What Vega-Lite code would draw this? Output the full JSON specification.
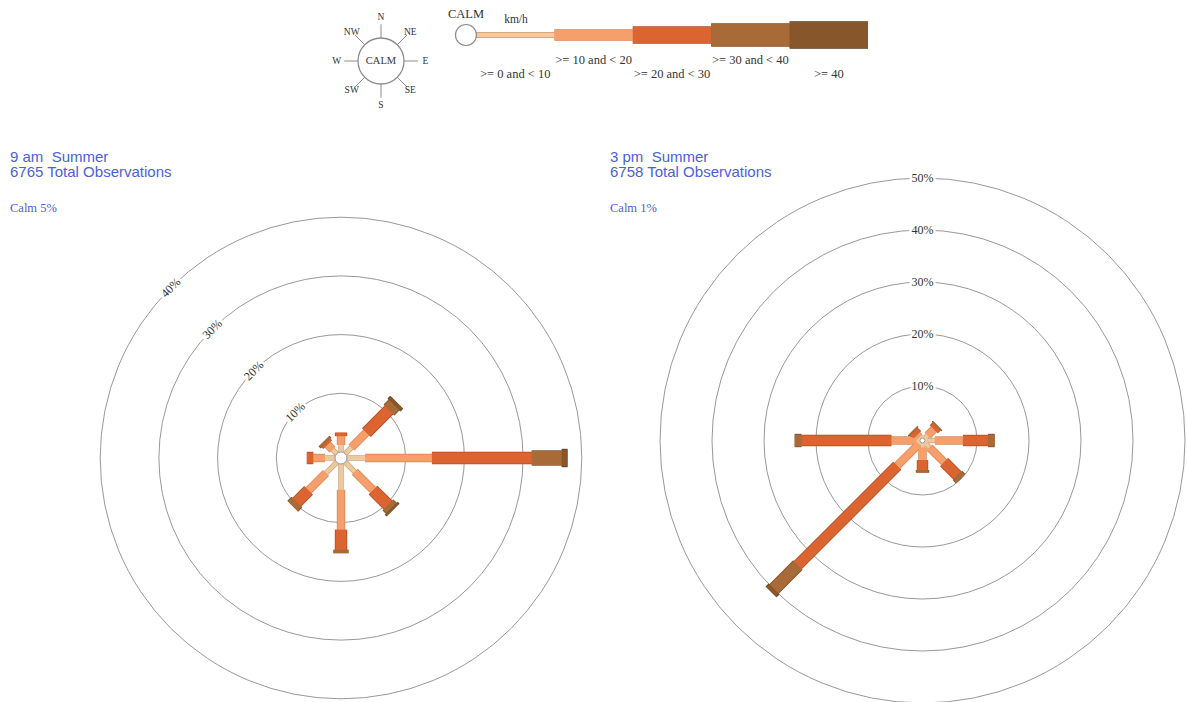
{
  "$schema": "https://vega.github.io/schema/vega-lite/v6.json",
  "width": 1187,
  "height": 702,
  "padding": 0,
  "autosize": {"type": "none"},
  "background": "white",
  "config": {"view": {"stroke": null}},
  "datasets": {
    "am": [
      {"dir": "N", "speed": "0-10", "pct": 1.2}, {"dir": "N", "speed": "10-20", "pct": 1.5}, {"dir": "N", "speed": "20-30", "pct": 0.6},
      {"dir": "NE", "speed": "0-10", "pct": 1.5}, {"dir": "NE", "speed": "10-20", "pct": 3.6}, {"dir": "NE", "speed": "20-30", "pct": 5.45}, {"dir": "NE", "speed": "30-40", "pct": 1.2}, {"dir": "NE", "speed": "40+", "pct": 0.65},
      {"dir": "E", "speed": "0-10", "pct": 3.07}, {"dir": "E", "speed": "10-20", "pct": 11.4}, {"dir": "E", "speed": "20-30", "pct": 17.0}, {"dir": "E", "speed": "30-40", "pct": 5.1}, {"dir": "E", "speed": "40+", "pct": 1.0},
      {"dir": "SE", "speed": "0-10", "pct": 2.3}, {"dir": "SE", "speed": "10-20", "pct": 4.4}, {"dir": "SE", "speed": "20-30", "pct": 3.6}, {"dir": "SE", "speed": "30-40", "pct": 0.8}, {"dir": "SE", "speed": "40+", "pct": 0.4},
      {"dir": "S", "speed": "0-10", "pct": 4.4}, {"dir": "S", "speed": "10-20", "pct": 6.8}, {"dir": "S", "speed": "20-30", "pct": 3.4}, {"dir": "S", "speed": "30-40", "pct": 0.6},
      {"dir": "SW", "speed": "0-10", "pct": 2.6}, {"dir": "SW", "speed": "10-20", "pct": 4.2}, {"dir": "SW", "speed": "20-30", "pct": 2.8}, {"dir": "SW", "speed": "30-40", "pct": 1.0},
      {"dir": "W", "speed": "0-10", "pct": 1.7}, {"dir": "W", "speed": "10-20", "pct": 2.0}, {"dir": "W", "speed": "20-30", "pct": 1.1},
      {"dir": "NW", "speed": "0-10", "pct": 1.0}, {"dir": "NW", "speed": "10-20", "pct": 1.2}, {"dir": "NW", "speed": "20-30", "pct": 0.4}, {"dir": "NW", "speed": "30-40", "pct": 0.45}
    ],
    "pm": [
      {"dir": "N", "speed": "0-10", "pct": 0.5},
      {"dir": "NE", "speed": "0-10", "pct": 0.9}, {"dir": "NE", "speed": "10-20", "pct": 1.7}, {"dir": "NE", "speed": "20-30", "pct": 0.7}, {"dir": "NE", "speed": "30-40", "pct": 0.3},
      {"dir": "E", "speed": "0-10", "pct": 1.9}, {"dir": "E", "speed": "10-20", "pct": 5.4}, {"dir": "E", "speed": "20-30", "pct": 4.8}, {"dir": "E", "speed": "30-40", "pct": 1.3},
      {"dir": "SE", "speed": "0-10", "pct": 1.4}, {"dir": "SE", "speed": "10-20", "pct": 4.0}, {"dir": "SE", "speed": "20-30", "pct": 3.6}, {"dir": "SE", "speed": "30-40", "pct": 0.9},
      {"dir": "S", "speed": "0-10", "pct": 0.9}, {"dir": "S", "speed": "10-20", "pct": 2.4}, {"dir": "S", "speed": "20-30", "pct": 1.9}, {"dir": "S", "speed": "30-40", "pct": 0.5},
      {"dir": "SW", "speed": "0-10", "pct": 0.5}, {"dir": "SW", "speed": "10-20", "pct": 5.9}, {"dir": "SW", "speed": "20-30", "pct": 27.0}, {"dir": "SW", "speed": "30-40", "pct": 6.5}, {"dir": "SW", "speed": "40+", "pct": 0.8},
      {"dir": "W", "speed": "0-10", "pct": 0.7}, {"dir": "W", "speed": "10-20", "pct": 4.8}, {"dir": "W", "speed": "20-30", "pct": 17.3}, {"dir": "W", "speed": "30-40", "pct": 1.3},
      {"dir": "NW", "speed": "0-10", "pct": 0.4}, {"dir": "NW", "speed": "10-20", "pct": 0.6}, {"dir": "NW", "speed": "20-30", "pct": 0.9}, {"dir": "NW", "speed": "30-40", "pct": 0.3}
    ],
    "amRings": [{"ring": 0}, {"ring": 10}, {"ring": 20}, {"ring": 30}, {"ring": 40}],
    "pmRings": [{"ring": 0}, {"ring": 10}, {"ring": 20}, {"ring": 30}, {"ring": 40}, {"ring": 50}],
    "dirs": [{"dir": "N"}, {"dir": "NE"}, {"dir": "E"}, {"dir": "SE"}, {"dir": "S"}, {"dir": "SW"}, {"dir": "W"}, {"dir": "NW"}],
    "key": [
      {"speed": "0-10", "label": ">= 0 and < 10"},
      {"speed": "10-20", "label": ">= 10 and < 20"},
      {"speed": "20-30", "label": ">= 20 and < 30"},
      {"speed": "30-40", "label": ">= 30 and < 40"},
      {"speed": "40+", "label": ">= 40"}
    ],
    "notes": [
      {"panel": "9 am", "kind": "title", "text": "9 am\u00a0 Summer\n6765 Total Observations"},
      {"panel": "9 am", "kind": "calm", "text": "Calm 5%"},
      {"panel": "3 pm", "kind": "title", "text": "3 pm\u00a0 Summer\n6758 Total Observations"},
      {"panel": "3 pm", "kind": "calm", "text": "Calm 1%"}
    ]
  },
  "layer": [
    {
      "layer": [
        {
          "data": {"name": "amRings"},
          "transform": [{"filter": "datum.ring > 0"}, {"calculate": "datum.ring + 1.022", "as": "u"}],
          "mark": {"type": "point", "shape": "circle", "filled": false, "stroke": "#8c8c8c", "strokeWidth": 0.9, "opacity": 1},
          "encoding": {
            "x": {"datum": 0, "type": "quantitative", "scale": {"type": "linear", "domain": [-58.092, 144.123], "nice": false, "zero": false}, "axis": null},
            "y": {"datum": 0, "type": "quantitative", "scale": {"type": "linear", "domain": [-41.567, 78.024], "nice": false, "zero": false}, "axis": null},
            "size": {"field": "u", "type": "quantitative", "scale": {"type": "pow", "exponent": 2, "domain": [0, 50], "range": [0, 344569], "zero": true, "nice": false}, "legend": null}
          }
        },
        {
          "data": {"name": "amRings"},
          "transform": [
            {"filter": "datum.ring > 0"},
            {"calculate": "datum.ring + 1.022", "as": "u"},
            {"calculate": "-0.7071 * datum.u", "as": "lx"},
            {"calculate": "0.7071 * datum.u", "as": "ly"},
            {"calculate": "datum.ring + '%'", "as": "label"}
          ],
          "encoding": {
            "x": {"field": "lx", "type": "quantitative", "scale": {"type": "linear", "domain": [-58.092, 144.123], "nice": false, "zero": false}, "axis": null},
            "y": {"field": "ly", "type": "quantitative", "scale": {"type": "linear", "domain": [-41.567, 78.024], "nice": false, "zero": false}, "axis": null},
            "text": {"field": "label"}
          },
          "layer": [
            {"mark": {"type": "text", "font": "Liberation Serif", "fontSize": 12, "angle": -45, "align": "center", "baseline": "middle", "fill": "white", "stroke": "white", "strokeWidth": 5}},
            {"mark": {"type": "text", "font": "Liberation Serif", "fontSize": 12, "angle": -45, "align": "center", "baseline": "middle", "fill": "#333333"}}
          ]
        },
        {
          "data": {"name": "am"},
          "transform": [
            {"calculate": "indexof(['0-10','10-20','20-30','30-40','40+'], datum.speed)", "as": "ci"},
            {"calculate": "indexof(['N','NE','E','SE','S','SW','W','NW'], datum.dir) * PI / 4", "as": "ang"},
            {"window": [{"op": "sum", "field": "pct", "as": "cum"}], "groupby": ["dir"], "sort": [{"field": "ci", "order": "ascending"}], "frame": [null, 0]},
            {"calculate": "1.022 + datum.cum", "as": "u1"},
            {"calculate": "datum.u1 - datum.pct", "as": "u0"},
            {"calculate": "datum.u0 * sin(datum.ang)", "as": "x0"},
            {"calculate": "datum.u0 * cos(datum.ang)", "as": "y0"},
            {"calculate": "datum.u1 * sin(datum.ang)", "as": "x1"},
            {"calculate": "datum.u1 * cos(datum.ang)", "as": "y1"}
          ],
          "encoding": {
            "x": {"field": "x0", "type": "quantitative", "scale": {"type": "linear", "domain": [-58.092, 144.123], "nice": false, "zero": false}, "axis": null},
            "y": {"field": "y0", "type": "quantitative", "scale": {"type": "linear", "domain": [-41.567, 78.024], "nice": false, "zero": false}, "axis": null},
            "x2": {"field": "x1"},
            "y2": {"field": "y1"}
          },
          "layer": [
            {
              "mark": {"type": "rule", "strokeCap": "butt"},
              "encoding": {
                "color": {"field": "speed", "type": "nominal", "scale": {"domain": ["0-10", "10-20", "20-30", "30-40", "40+"], "range": ["#c99f76", "#d9804f", "#b04a1f", "#7d4b24", "#5b381a"]}, "legend": null},
                "strokeWidth": {"field": "speed", "type": "ordinal", "scale": {"type": "ordinal", "domain": ["0-10", "10-20", "20-30", "30-40", "40+"], "range": [5.4, 8.4, 12.4, 15.4, 18.4]}, "legend": null}
              }
            },
            {
              "mark": {"type": "rule", "strokeCap": "butt"},
              "encoding": {
                "color": {"field": "speed", "type": "nominal", "scale": {"domain": ["0-10", "10-20", "20-30", "30-40", "40+"], "range": ["#efc89e", "#f5a06c", "#db6431", "#a86a37", "#87572b"]}, "legend": null},
                "strokeWidth": {"field": "speed", "type": "ordinal", "scale": {"type": "ordinal", "domain": ["0-10", "10-20", "20-30", "30-40", "40+"], "range": [4, 7, 11, 14, 17]}, "legend": null}
              }
            }
          ],
          "resolve": {"scale": {"color": "independent", "strokeWidth": "independent"}}
        },
        {
          "data": {"name": "amRings"},
          "transform": [{"filter": "datum.ring == 0"}, {"calculate": "datum.ring + 1.022", "as": "u"}],
          "mark": {"type": "point", "shape": "circle", "filled": true, "fill": "white", "stroke": "#8c8c8c", "strokeWidth": 0.9, "opacity": 1},
          "encoding": {
            "x": {"datum": 0, "type": "quantitative", "scale": {"type": "linear", "domain": [-58.092, 144.123], "nice": false, "zero": false}, "axis": null},
            "y": {"datum": 0, "type": "quantitative", "scale": {"type": "linear", "domain": [-41.567, 78.024], "nice": false, "zero": false}, "axis": null},
            "size": {"field": "u", "type": "quantitative", "scale": {"type": "pow", "exponent": 2, "domain": [0, 50], "range": [0, 344569], "zero": true, "nice": false}, "legend": null}
          }
        }
      ]
    },
    {
      "layer": [
        {
          "data": {"name": "pmRings"},
          "transform": [{"filter": "datum.ring > 0"}, {"calculate": "datum.ring + 0.481", "as": "u"}],
          "mark": {"type": "point", "shape": "circle", "filled": false, "stroke": "#8c8c8c", "strokeWidth": 0.9, "opacity": 1},
          "encoding": {
            "x": {"datum": 0, "type": "quantitative", "scale": {"type": "linear", "domain": [-177.404, 50.865], "nice": false, "zero": false}, "axis": null},
            "y": {"datum": 0, "type": "quantitative", "scale": {"type": "linear", "domain": [-50.288, 84.712], "nice": false, "zero": false}, "axis": null},
            "size": {"field": "u", "type": "quantitative", "scale": {"type": "pow", "exponent": 2, "domain": [0, 50], "range": [0, 270400], "zero": true, "nice": false}, "legend": null}
          }
        },
        {
          "data": {"name": "pmRings"},
          "transform": [
            {"filter": "datum.ring > 0"},
            {"calculate": "datum.ring + 0.481", "as": "u"},
            {"calculate": "datum.ring + '%'", "as": "label"}
          ],
          "encoding": {
            "x": {"datum": 0, "type": "quantitative", "scale": {"type": "linear", "domain": [-177.404, 50.865], "nice": false, "zero": false}, "axis": null},
            "y": {"field": "u", "type": "quantitative", "scale": {"type": "linear", "domain": [-50.288, 84.712], "nice": false, "zero": false}, "axis": null},
            "text": {"field": "label"}
          },
          "layer": [
            {"mark": {"type": "text", "font": "Liberation Serif", "fontSize": 12, "align": "center", "baseline": "middle", "fill": "white", "stroke": "white", "strokeWidth": 5}},
            {"mark": {"type": "text", "font": "Liberation Serif", "fontSize": 12, "align": "center", "baseline": "middle", "fill": "#333333"}}
          ]
        },
        {
          "data": {"name": "pm"},
          "transform": [
            {"calculate": "indexof(['0-10','10-20','20-30','30-40','40+'], datum.speed)", "as": "ci"},
            {"calculate": "indexof(['N','NE','E','SE','S','SW','W','NW'], datum.dir) * PI / 4", "as": "ang"},
            {"window": [{"op": "sum", "field": "pct", "as": "cum"}], "groupby": ["dir"], "sort": [{"field": "ci", "order": "ascending"}], "frame": [null, 0]},
            {"calculate": "0.481 + datum.cum", "as": "u1"},
            {"calculate": "datum.u1 - datum.pct", "as": "u0"},
            {"calculate": "datum.u0 * sin(datum.ang)", "as": "x0"},
            {"calculate": "datum.u0 * cos(datum.ang)", "as": "y0"},
            {"calculate": "datum.u1 * sin(datum.ang)", "as": "x1"},
            {"calculate": "datum.u1 * cos(datum.ang)", "as": "y1"}
          ],
          "encoding": {
            "x": {"field": "x0", "type": "quantitative", "scale": {"type": "linear", "domain": [-177.404, 50.865], "nice": false, "zero": false}, "axis": null},
            "y": {"field": "y0", "type": "quantitative", "scale": {"type": "linear", "domain": [-50.288, 84.712], "nice": false, "zero": false}, "axis": null},
            "x2": {"field": "x1"},
            "y2": {"field": "y1"}
          },
          "layer": [
            {
              "mark": {"type": "rule", "strokeCap": "butt"},
              "encoding": {
                "color": {"field": "speed", "type": "nominal", "scale": {"domain": ["0-10", "10-20", "20-30", "30-40", "40+"], "range": ["#c99f76", "#d9804f", "#b04a1f", "#7d4b24", "#5b381a"]}, "legend": null},
                "strokeWidth": {"field": "speed", "type": "ordinal", "scale": {"type": "ordinal", "domain": ["0-10", "10-20", "20-30", "30-40", "40+"], "range": [5.4, 8.4, 11.4, 13.4, 15.4]}, "legend": null}
              }
            },
            {
              "mark": {"type": "rule", "strokeCap": "butt"},
              "encoding": {
                "color": {"field": "speed", "type": "nominal", "scale": {"domain": ["0-10", "10-20", "20-30", "30-40", "40+"], "range": ["#efc89e", "#f5a06c", "#db6431", "#a86a37", "#87572b"]}, "legend": null},
                "strokeWidth": {"field": "speed", "type": "ordinal", "scale": {"type": "ordinal", "domain": ["0-10", "10-20", "20-30", "30-40", "40+"], "range": [4, 7, 10, 12, 14]}, "legend": null}
              }
            }
          ],
          "resolve": {"scale": {"color": "independent", "strokeWidth": "independent"}}
        },
        {
          "data": {"name": "pmRings"},
          "transform": [{"filter": "datum.ring == 0"}, {"calculate": "datum.ring + 0.481", "as": "u"}],
          "mark": {"type": "point", "shape": "circle", "filled": true, "fill": "white", "stroke": "#8c8c8c", "strokeWidth": 0.9, "opacity": 1},
          "encoding": {
            "x": {"datum": 0, "type": "quantitative", "scale": {"type": "linear", "domain": [-177.404, 50.865], "nice": false, "zero": false}, "axis": null},
            "y": {"datum": 0, "type": "quantitative", "scale": {"type": "linear", "domain": [-50.288, 84.712], "nice": false, "zero": false}, "axis": null},
            "size": {"field": "u", "type": "quantitative", "scale": {"type": "pow", "exponent": 2, "domain": [0, 50], "range": [0, 270400], "zero": true, "nice": false}, "legend": null}
          }
        }
      ]
    },
    {
      "layer": [
        {
          "data": {"name": "dirs"},
          "transform": [
            {"calculate": "indexof(['N','NE','E','SE','S','SW','W','NW'], datum.dir) * PI / 4", "as": "ang"},
            {"calculate": "sin(datum.ang)", "as": "tx0"},
            {"calculate": "cos(datum.ang)", "as": "ty0"},
            {"calculate": "1.6 * sin(datum.ang)", "as": "tx1"},
            {"calculate": "1.6 * cos(datum.ang)", "as": "ty1"}
          ],
          "mark": {"type": "rule", "stroke": "#8c8c8c", "strokeWidth": 1},
          "encoding": {
            "x": {"field": "tx0", "type": "quantitative", "scale": {"type": "linear", "domain": [-1, 1], "range": [358, 404], "nice": false, "zero": false}, "axis": null},
            "y": {"field": "ty0", "type": "quantitative", "scale": {"type": "linear", "domain": [-1, 1], "range": [84, 38], "nice": false, "zero": false}, "axis": null},
            "x2": {"field": "tx1"},
            "y2": {"field": "ty1"}
          }
        },
        {
          "data": {"values": [{"label": "CALM"}]},
          "encoding": {
            "x": {"datum": 0, "type": "quantitative", "scale": {"type": "linear", "domain": [-1, 1], "range": [358, 404], "nice": false, "zero": false}, "axis": null},
            "y": {"datum": 0, "type": "quantitative", "scale": {"type": "linear", "domain": [-1, 1], "range": [84, 38], "nice": false, "zero": false}, "axis": null}
          },
          "layer": [
            {"mark": {"type": "point", "shape": "circle", "filled": true, "fill": "white", "stroke": "#8c8c8c", "strokeWidth": 1.3, "size": 2116, "opacity": 1}},
            {"mark": {"type": "text", "font": "Liberation Serif", "fontSize": 10.5, "align": "center", "baseline": "middle", "fill": "#333333"}, "encoding": {"text": {"field": "label"}}}
          ]
        },
        {
          "data": {"name": "dirs"},
          "transform": [
            {"calculate": "indexof(['N','NE','E','SE','S','SW','W','NW'], datum.dir) * PI / 4", "as": "ang"},
            {"calculate": "length(datum.dir) == 1 ? 1.93 : 1.8", "as": "lr"},
            {"calculate": "datum.lr * sin(datum.ang)", "as": "lx"},
            {"calculate": "datum.lr * cos(datum.ang)", "as": "ly"}
          ],
          "mark": {"type": "text", "font": "Liberation Serif", "fontSize": 9.5, "align": "center", "baseline": "middle", "fill": "#333333"},
          "encoding": {
            "x": {"field": "lx", "type": "quantitative", "scale": {"type": "linear", "domain": [-1, 1], "range": [358, 404], "nice": false, "zero": false}, "axis": null},
            "y": {"field": "ly", "type": "quantitative", "scale": {"type": "linear", "domain": [-1, 1], "range": [84, 38], "nice": false, "zero": false}, "axis": null},
            "text": {"field": "dir"}
          }
        }
      ]
    },
    {
      "layer": [
        {
          "data": {"name": "key"},
          "transform": [
            {"calculate": "indexof(['0-10','10-20','20-30','30-40','40+'], datum.speed)", "as": "ci"},
            {"calculate": "datum.ci + 1", "as": "ci1"}
          ],
          "encoding": {
            "x": {"field": "ci", "type": "quantitative", "scale": {"type": "linear", "domain": [0, 5], "range": [476, 868], "nice": false, "zero": false}, "axis": null},
            "x2": {"field": "ci1"},
            "y": {"datum": 0, "type": "quantitative", "scale": {"type": "linear", "domain": [-1, 1], "range": [70, 0], "nice": false, "zero": false}, "axis": null}
          },
          "layer": [
            {
              "mark": {"type": "rule", "strokeCap": "butt"},
              "encoding": {
                "color": {"field": "speed", "type": "nominal", "scale": {"domain": ["0-10", "10-20", "20-30", "30-40", "40+"], "range": ["#c99f76", "#d9804f", "#b04a1f", "#7d4b24", "#5b381a"]}, "legend": null},
                "strokeWidth": {"field": "speed", "type": "ordinal", "scale": {"type": "ordinal", "domain": ["0-10", "10-20", "20-30", "30-40", "40+"], "range": [6, 11.5, 17.5, 23.5, 27.5]}, "legend": null}
              }
            },
            {
              "mark": {"type": "rule", "strokeCap": "butt"},
              "encoding": {
                "color": {"field": "speed", "type": "nominal", "scale": {"domain": ["0-10", "10-20", "20-30", "30-40", "40+"], "range": ["#f7c7a0", "#f5a06c", "#db6431", "#a86a37", "#87572b"]}, "legend": null},
                "strokeWidth": {"field": "speed", "type": "ordinal", "scale": {"type": "ordinal", "domain": ["0-10", "10-20", "20-30", "30-40", "40+"], "range": [4.5, 10, 16, 22, 26]}, "legend": null}
              }
            }
          ],
          "resolve": {"scale": {"color": "independent", "strokeWidth": "independent"}}
        },
        {
          "data": {"name": "key"},
          "transform": [
            {"calculate": "indexof(['0-10','10-20','20-30','30-40','40+'], datum.speed)", "as": "ci"},
            {"calculate": "datum.ci + 0.5", "as": "mid"}
          ],
          "encoding": {
            "x": {"field": "mid", "type": "quantitative", "scale": {"type": "linear", "domain": [0, 5], "range": [476, 868], "nice": false, "zero": false}, "axis": null},
            "y": {"datum": 0, "type": "quantitative", "scale": {"type": "linear", "domain": [-1, 1], "range": [70, 0], "nice": false, "zero": false}, "axis": null},
            "text": {"field": "label"}
          },
          "layer": [
            {"transform": [{"filter": "datum.ci % 2 == 1"}], "mark": {"type": "text", "font": "Liberation Serif", "fontSize": 12.5, "align": "center", "baseline": "middle", "dy": 25, "fill": "#333333"}},
            {"transform": [{"filter": "datum.ci % 2 == 0"}], "mark": {"type": "text", "font": "Liberation Serif", "fontSize": 12.5, "align": "center", "baseline": "middle", "dy": 39, "fill": "#333333"}}
          ]
        },
        {
          "data": {"values": [{"label": "CALM", "unit": "km/h"}]},
          "layer": [
            {
              "mark": {"type": "point", "shape": "circle", "filled": true, "fill": "white", "stroke": "#8c8c8c", "strokeWidth": 1.2, "size": 441, "opacity": 1},
              "encoding": {
                "x": {"datum": -0.128, "type": "quantitative", "scale": {"type": "linear", "domain": [0, 5], "range": [476, 868], "nice": false, "zero": false}, "axis": null},
                "y": {"datum": 0, "type": "quantitative", "scale": {"type": "linear", "domain": [-1, 1], "range": [70, 0], "nice": false, "zero": false}, "axis": null}
              }
            },
            {
              "mark": {"type": "text", "font": "Liberation Serif", "fontSize": 12.5, "align": "center", "baseline": "middle", "dy": -21, "fill": "#333333"},
              "encoding": {
                "x": {"datum": -0.128, "type": "quantitative", "scale": {"type": "linear", "domain": [0, 5], "range": [476, 868], "nice": false, "zero": false}, "axis": null},
                "y": {"datum": 0, "type": "quantitative", "scale": {"type": "linear", "domain": [-1, 1], "range": [70, 0], "nice": false, "zero": false}, "axis": null},
                "text": {"field": "label"}
              }
            },
            {
              "mark": {"type": "text", "font": "Liberation Serif", "fontSize": 11.5, "align": "center", "baseline": "middle", "dy": -15, "fill": "#333333"},
              "encoding": {
                "x": {"datum": 0.51, "type": "quantitative", "scale": {"type": "linear", "domain": [0, 5], "range": [476, 868], "nice": false, "zero": false}, "axis": null},
                "y": {"datum": 0, "type": "quantitative", "scale": {"type": "linear", "domain": [-1, 1], "range": [70, 0], "nice": false, "zero": false}, "axis": null},
                "text": {"field": "unit"}
              }
            }
          ]
        }
      ]
    },
    {
      "data": {"name": "notes"},
      "encoding": {
        "x": {"field": "panel", "type": "nominal", "scale": {"type": "point", "domain": ["9 am", "3 pm"], "range": [10, 610], "padding": 0}, "axis": null},
        "y": {"field": "kind", "type": "nominal", "scale": {"type": "point", "domain": ["title", "calm"], "range": [161.5, 211.5], "padding": 0}, "axis": null},
        "text": {"field": "text"}
      },
      "layer": [
        {"transform": [{"filter": "datum.kind == 'title'"}], "mark": {"type": "text", "font": "Liberation Sans", "fontSize": 15, "lineHeight": 15, "lineBreak": "\n", "align": "left", "baseline": "alphabetic", "fill": "#4a62d6"}},
        {"transform": [{"filter": "datum.kind == 'calm'"}], "mark": {"type": "text", "font": "Liberation Serif", "fontSize": 12.5, "align": "left", "baseline": "alphabetic", "fill": "#4a62d6"}}
      ]
    }
  ],
  "resolve": {"scale": {"x": "independent", "y": "independent", "size": "independent", "color": "independent", "strokeWidth": "independent"}}
}
